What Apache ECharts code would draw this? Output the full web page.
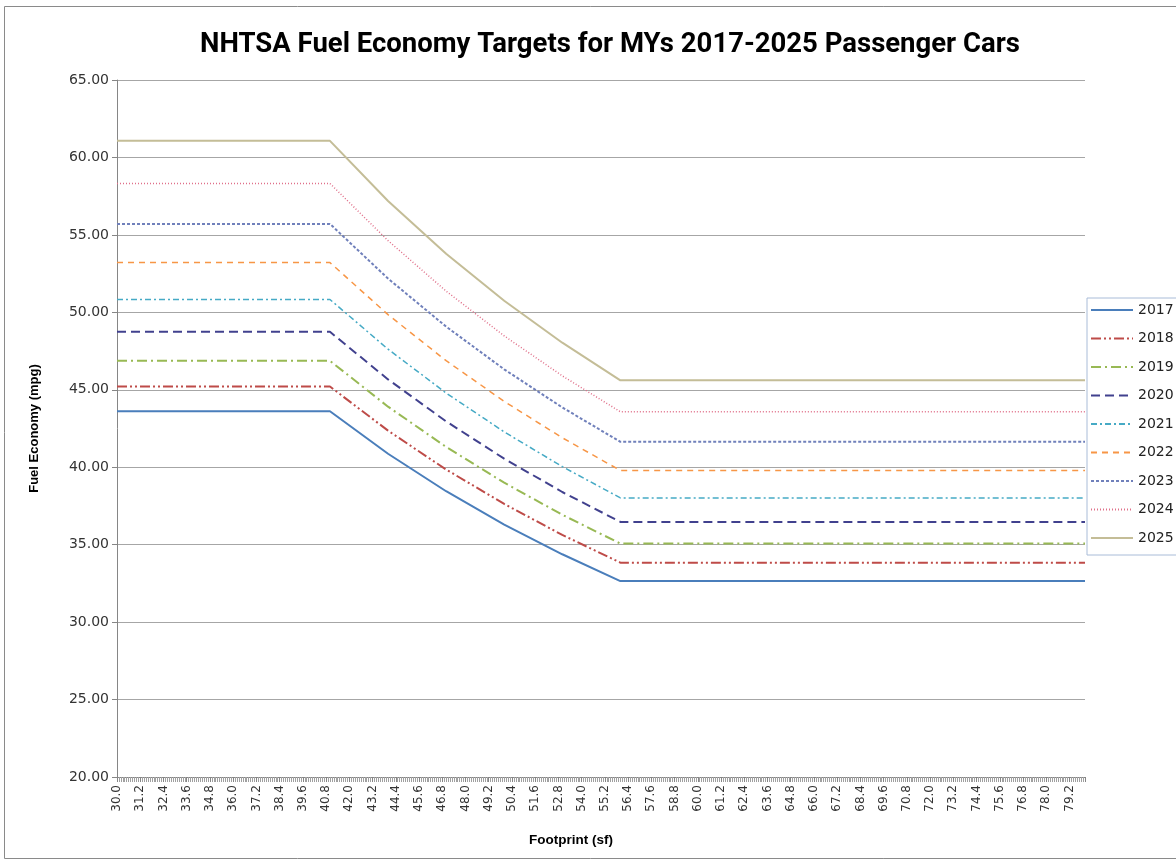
<!DOCTYPE html>
<html>
<head>
<meta charset="utf-8">
<script src="https://cdn.jsdelivr.net/npm/echarts@6/dist/echarts.min.js"></script>
<style>
html,body{margin:0;padding:0;background:#fff;}
#chart{width:1176px;height:861px;}
</style>
</head>
<body>
<div id="chart"></div>
<script>
// Footprint (sf) breakpoints and fuel-economy targets (mpg)
const footprint = [30.0, 41.0, 44.0, 47.0, 50.0, 53.0, 56.0, 80.0];
const years = ['2017','2018','2019','2020','2021','2022','2023','2024','2025'];
const fe2017 = [43.61, 43.61, 40.87, 38.45, 36.30, 34.38, 32.65, 32.65];
const fe2018 = [45.21, 45.21, 42.36, 39.85, 37.63, 35.63, 33.84, 33.84];
const fe2019 = [46.87, 46.87, 43.91, 41.31, 39.00, 36.93, 35.07, 35.07];
const fe2020 = [48.74, 48.74, 45.67, 42.96, 40.55, 38.40, 36.47, 36.47];
const fe2021 = [50.83, 50.83, 47.62, 44.79, 42.28, 40.04, 38.02, 38.02];
const fe2022 = [53.21, 53.21, 49.85, 46.88, 44.25, 41.90, 39.79, 39.79];
const fe2023 = [55.71, 55.71, 52.18, 49.08, 46.32, 43.86, 41.64, 41.64];
const fe2024 = [58.32, 58.32, 54.63, 51.37, 48.48, 45.90, 43.58, 43.58];
const fe2025 = [61.07, 61.07, 57.19, 53.78, 50.75, 48.04, 45.61, 45.61];
const seriesValues = [fe2017, fe2018, fe2019, fe2020, fe2021, fe2022, fe2023, fe2024, fe2025];

const colors = ['#4a7ebb','#be4b48','#98b954','#41418e','#46aac5','#f79646','#7080bb','#e0708a','#c4bd97'];
const dashes = ['solid',[10,3,2,3,2,3],[10,4,2,4],[9,5],[6,3,2,3],[6,5],[3,2],[1,2],'solid'];
const widths = [2,2,2,2,1.5,1.5,2,1.5,2];

const series = years.map((y, i) => ({
  name: y,
  type: 'line',
  data: footprint.map((x, j) => [x, seriesValues[i][j]]),
  symbol: 'none',
  showSymbol: false,
  smooth: false,
  lineStyle: { color: colors[i], width: widths[i], type: dashes[i] },
  itemStyle: { color: colors[i] },
  emphasis: { disabled: true }
}));

const chart = echarts.init(document.getElementById('chart'), null, { renderer: 'canvas' });
chart.setOption({
  animation: false,
  backgroundColor: '#ffffff',
  title: {
    text: 'NHTSA Fuel Economy Targets for MYs 2017-2025 Passenger Cars',
    left: 605, top: 26, textAlign: 'center',
    textStyle: { fontFamily: 'Roboto, sans-serif', fontWeight: 'bold', fontSize: 27.5, color: '#000' }
  },
  graphic: [{
    type: 'rect', silent: true,
    shape: { x: 4.5, y: 6.5, width: 1200, height: 852 },
    style: { fill: 'none', stroke: '#8a8a8a', lineWidth: 1 }
  }],
  legend: {
    orient: 'vertical', left: 1087, top: 298,
    data: years,
    itemWidth: 42, itemHeight: 12, itemGap: 14.5,
    padding: [5, 6, 10, 3],
    itemStyle: { opacity: 0 },
    borderColor: '#a9bcd8', borderWidth: 1,
    textStyle: { fontFamily: 'DejaVu Sans, sans-serif', fontSize: 14, color: '#222' }
  },
  grid: { left: 117, top: 80, right: 91, bottom: 84 },
  xAxis: {
    type: 'value', min: 30, max: 80, interval: 1.2,
    name: 'Footprint (sf)', nameLocation: 'middle', nameGap: 56,
    nameTextStyle: { fontFamily: 'Liberation Sans, sans-serif', fontWeight: 'bold', fontSize: 13.5, color: '#000', padding: [0, 60, 0, 0] },
    axisLine: { lineStyle: { color: '#868686' } },
    axisTick: { show: true, length: 5, lineStyle: { color: '#868686' } },
    minorTick: { show: true, splitNumber: 12, length: 5, lineStyle: { color: '#a0a0a0' } },
    splitLine: { show: false },
    axisLabel: {
      rotate: 90, fontSize: 12, color: '#333', margin: 8,
      fontFamily: 'DejaVu Sans, sans-serif',
      formatter: v => (v > 79.9 ? '' : v.toFixed(1))
    }
  },
  yAxis: {
    type: 'value', min: 20, max: 65, interval: 5,
    name: 'Fuel Economy (mpg)', nameLocation: 'middle', nameGap: 76,
    nameTextStyle: { fontFamily: 'Liberation Sans, sans-serif', fontWeight: 'bold', fontSize: 13, color: '#000' },
    axisLine: { show: true, lineStyle: { color: '#868686' } },
    axisTick: { show: true, length: 5, lineStyle: { color: '#868686' } },
    splitLine: { show: true, lineStyle: { color: '#a6a6a6', width: 1 } },
    axisLabel: {
      fontSize: 14, color: '#333', margin: 8,
      fontFamily: 'DejaVu Sans, sans-serif',
      formatter: v => v.toFixed(2)
    }
  },
  series: series
});
</script>
</body>
</html>
